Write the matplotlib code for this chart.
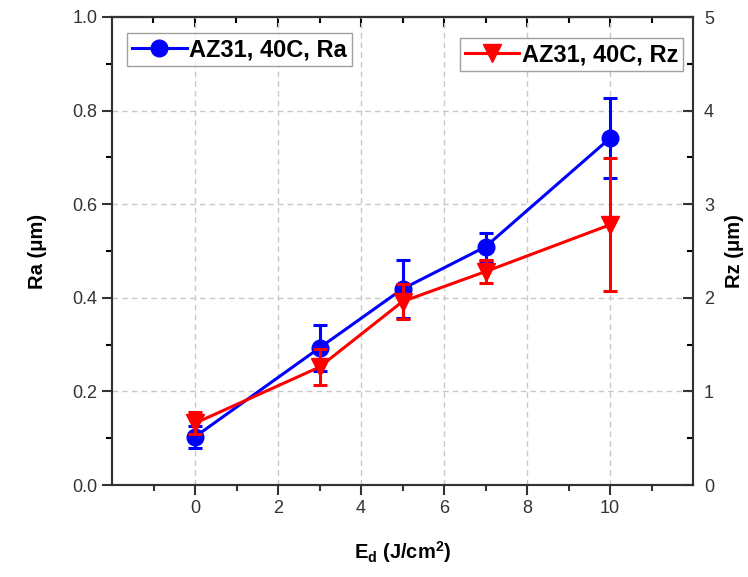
import matplotlib
matplotlib.use("Agg")
import matplotlib.pyplot as plt
from matplotlib.ticker import MultipleLocator, FixedLocator

plt.rcParams['font.family'] = ['Liberation Sans', 'DejaVu Sans']
plt.rcParams['mathtext.default'] = 'regular'

# Data
ed = [0, 3, 5, 7, 10]
ra = [0.103, 0.293, 0.419, 0.509, 0.741]
ra_err = [0.024, 0.049, 0.062, 0.03, 0.086]
rz = [0.66, 1.26, 1.96, 2.28, 2.78]
rz_err = [0.12, 0.19, 0.19, 0.12, 0.71]
x_ticks = [0, 2, 4, 6, 8, 10]

fig = plt.figure(figsize=(7.48, 5.77), dpi=100)
ax = fig.add_axes([112/748, 1-485/577, (693-112)/748, (485-17)/577])
ax2 = ax.twinx()

blue = '#0000ff'
red = '#ff0000'

ax.errorbar(ed, ra, yerr=ra_err, color=blue, lw=2.2, marker='o', ms=12,
            capsize=5, capthick=2.2, elinewidth=2.2, zorder=3)
ax2.errorbar(ed, rz, yerr=rz_err, color=red, lw=2.2, marker='v', ms=13,
             capsize=5, capthick=2.2, elinewidth=2.2, zorder=3)

ax.set_xlim(-2, 12)
ax.set_ylim(0, 1.0)
ax2.set_ylim(0, 5)

ax.xaxis.set_major_locator(FixedLocator(x_ticks))
ax.xaxis.set_minor_locator(FixedLocator([-1, 1, 3, 5, 7, 9, 11]))
ax.yaxis.set_major_locator(MultipleLocator(0.2))
ax.yaxis.set_minor_locator(MultipleLocator(0.1))
ax2.yaxis.set_major_locator(MultipleLocator(1))
ax2.yaxis.set_minor_locator(MultipleLocator(0.5))

ax.grid(True, which='major', ls=(0, (4, 3)), color='#c8c8c8', lw=1.0)
ax.set_axisbelow(True)

for a in (ax, ax2):
    for s in a.spines.values():
        s.set_linewidth(1.5)
        s.set_color('#333333')

ax.tick_params(axis='x', which='both', bottom=True, top=False, direction='out',
               labelsize=13, colors='#333333')
ax.tick_params(axis='x', which='major', length=7, width=1.5)
ax.tick_params(axis='x', which='minor', length=4, width=1.5)
ax.tick_params(axis='y', which='major', direction='out', length=7, width=1.5,
               labelsize=13, colors='#333333')
ax.tick_params(axis='y', which='minor', direction='out', length=4, width=1.5)
ax2.tick_params(axis='y', which='major', direction='in', length=7, width=1.5,
                labelsize=13, colors='#333333', pad=8)
ax2.tick_params(axis='y', which='minor', direction='in', length=4, width=1.5)

# top ticks inward
secx = ax.secondary_xaxis('top')
secx.xaxis.set_major_locator(FixedLocator(x_ticks))
secx.xaxis.set_minor_locator(FixedLocator([-1, 1, 3, 5, 7, 9, 11]))
secx.tick_params(axis='x', which='major', direction='in', length=7, width=1.5, labeltop=False)
secx.tick_params(axis='x', which='minor', direction='in', length=4, width=1.5)
secx.spines['top'].set_linewidth(1.5)
secx.spines['top'].set_color('#333333')

ax.set_xlabel('E$_\\mathregular{d}$ (J/cm$^\\mathregular{2}$)', fontsize=14.5, fontweight='bold', labelpad=16)
ax.set_ylabel('Ra (\u03bcm)', fontsize=14.5, fontweight='bold', labelpad=18)
ax2.set_ylabel('Rz (\u03bcm)', fontsize=14.5, fontweight='bold', labelpad=8)

h1, = ax.plot([], [], color=blue, lw=2.2, marker='o', ms=12)
h2, = ax2.plot([], [], color=red, lw=2.2, marker='v', ms=13)
leg1 = ax.legend([h1], ['AZ31, 40C, Ra'], loc='upper left', bbox_to_anchor=(0.026, 0.966),
                 prop={'weight': 'bold', 'size': 17}, frameon=True, fancybox=False,
                 edgecolor='#888888', handlelength=2.3, handletextpad=0.1,
                 borderpad=0.22, borderaxespad=0)
leg1.get_frame().set_linewidth(1.0)
leg2 = ax2.legend([h2], ['AZ31, 40C, Rz'], loc='upper right', bbox_to_anchor=(0.983, 0.955),
                  prop={'weight': 'bold', 'size': 17}, frameon=True, fancybox=False,
                  edgecolor='#888888', handlelength=2.3, handletextpad=0.1,
                  borderpad=0.22, borderaxespad=0)
leg2.get_frame().set_linewidth(1.0)

fig.savefig('out.png', dpi=100)
